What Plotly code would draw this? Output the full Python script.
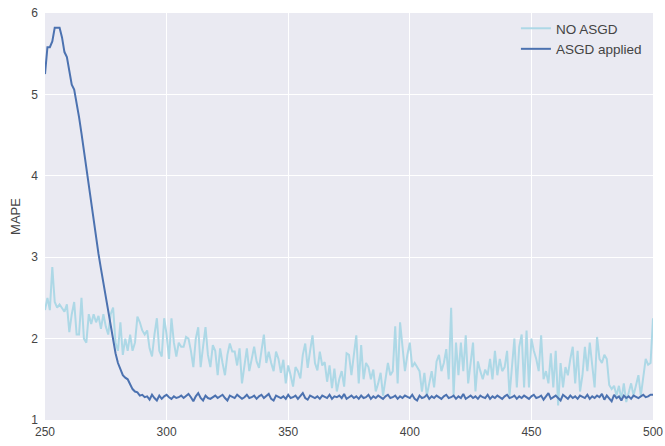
import plotly.graph_objects as go

epochs = list(range(250, 501))

no_asgd = [
    2.35, 2.50, 2.35, 2.88, 2.45, 2.38, 2.42, 2.38, 2.33, 2.42,  # 250
    2.08, 2.30, 2.45, 2.05, 2.05, 2.50, 2.00, 1.95, 2.30, 2.18,  # 260
    2.30, 2.20, 2.28, 2.12, 2.30, 2.15, 2.05, 2.30, 2.38, 1.95,  # 270
    1.85, 2.20, 1.80, 2.00, 1.85, 2.05, 1.85, 1.95, 2.27, 2.20,  # 280
    2.10, 2.05, 2.10, 1.88, 1.78, 2.05, 2.25, 1.85, 1.78, 2.25,  # 290
    2.05, 1.75, 2.25, 1.95, 1.78, 1.95, 1.90, 1.90, 2.02, 2.00,  # 300
    1.85, 1.65, 2.00, 2.14, 1.65, 1.90, 2.14, 1.80, 1.65, 1.92,  # 310
    1.85, 1.55, 1.88, 1.70, 1.55, 1.80, 1.94, 1.84, 1.84, 1.67,  # 320
    1.88, 1.45, 1.70, 1.88, 1.60, 1.75, 1.90, 1.72, 1.64, 1.85,  # 330
    2.05, 1.70, 1.84, 1.70, 1.60, 1.84, 1.75, 1.58, 1.74, 1.45,  # 340
    1.67, 1.55, 1.41, 1.65, 1.60, 1.51, 1.80, 1.94, 1.64, 1.85,  # 350
    2.04, 1.70, 1.61, 1.84, 1.67, 1.71, 1.47, 1.67, 1.39, 1.63,  # 360
    1.35, 1.50, 1.60, 1.41, 1.82, 1.80, 1.55, 1.80, 2.04, 1.45,  # 370
    1.92, 1.50, 1.70, 1.65, 1.50, 1.62, 1.35, 1.45, 1.58, 1.30,  # 380
    1.50, 1.70, 1.55, 1.60, 2.15, 1.45, 2.20, 1.85, 1.60, 1.80,  # 390
    1.95, 1.65, 1.70, 1.65, 1.60, 1.35, 1.58, 1.30, 1.45, 1.60,  # 400
    1.40, 1.72, 1.80, 1.60, 1.70, 1.87, 1.50, 2.38, 1.30, 1.95,  # 410
    1.55, 1.95, 1.60, 2.04, 1.45, 1.70, 1.95, 1.35, 1.72, 1.60,  # 420
    1.50, 1.62, 1.55, 1.75, 1.50, 1.85, 1.55, 1.75, 1.60, 1.65,  # 430
    1.85, 1.30, 1.65, 2.00, 1.40, 1.90, 2.05, 1.40, 2.10, 1.40,  # 440
    2.00, 1.85, 1.75, 1.60, 2.04, 1.50, 1.60, 1.45, 1.82, 1.40,  # 450
    1.85, 1.18, 1.70, 1.40, 1.65, 1.55, 1.75, 1.90, 1.45, 1.85,  # 460
    1.35, 1.55, 1.90, 1.60, 1.95, 1.70, 1.40, 2.02, 1.75, 1.70,  # 470
    1.80, 1.75, 1.43, 1.38, 1.42, 1.30, 1.42, 1.25, 1.45, 1.22,  # 480
    1.35, 1.45, 1.30, 1.42, 1.55, 1.30, 1.55, 1.75, 1.68, 1.70,  # 490
    2.25,                                                        # 500
]

asgd = [
    5.25, 5.58, 5.58, 5.65, 5.82, 5.82, 5.82, 5.70, 5.52, 5.46,  # 250
    5.30, 5.12, 5.06, 4.90, 4.72, 4.52, 4.30, 4.08, 3.86, 3.66,  # 260
    3.45, 3.24, 3.04, 2.86, 2.68, 2.50, 2.34, 2.18, 2.00, 1.82,  # 270
    1.70, 1.62, 1.55, 1.52, 1.50, 1.44, 1.38, 1.35, 1.34, 1.30,  # 280
    1.31, 1.28, 1.29, 1.25, 1.31, 1.27, 1.24, 1.30, 1.26, 1.29,  # 290
    1.31, 1.28, 1.26, 1.29, 1.27, 1.28, 1.30, 1.27, 1.29, 1.32,  # 300
    1.28, 1.23, 1.29, 1.33, 1.27, 1.24, 1.30, 1.27, 1.26, 1.28,  # 310
    1.30, 1.27, 1.29, 1.31, 1.27, 1.24, 1.30, 1.28, 1.27, 1.31,  # 320
    1.29, 1.26, 1.28, 1.31, 1.27, 1.28, 1.30, 1.26, 1.29, 1.31,  # 330
    1.27, 1.29, 1.32, 1.26, 1.24, 1.30, 1.28, 1.27, 1.29, 1.26,  # 340
    1.31, 1.27, 1.28, 1.30, 1.26, 1.29, 1.33, 1.27, 1.25, 1.30,  # 350
    1.28, 1.27, 1.29, 1.26, 1.30, 1.28, 1.27, 1.31, 1.26, 1.29,  # 360
    1.28, 1.30, 1.27, 1.32, 1.26, 1.28, 1.30, 1.27, 1.29, 1.26,  # 370
    1.30, 1.27, 1.28, 1.31, 1.26, 1.29, 1.27, 1.30, 1.28, 1.26,  # 380
    1.29, 1.31, 1.27, 1.28, 1.30, 1.26, 1.29, 1.27, 1.30, 1.28,  # 390
    1.27, 1.31, 1.26, 1.24, 1.30, 1.27, 1.28, 1.31, 1.26, 1.29,  # 400
    1.27, 1.30, 1.28, 1.26, 1.29, 1.31, 1.27, 1.28, 1.30, 1.26,  # 410
    1.29, 1.27, 1.32, 1.26, 1.28, 1.30, 1.27, 1.29, 1.26, 1.30,  # 420
    1.28, 1.27, 1.31, 1.26, 1.29, 1.27, 1.30, 1.28, 1.26, 1.29,  # 430
    1.31, 1.27, 1.28, 1.30, 1.26, 1.29, 1.27, 1.30, 1.28, 1.26,  # 440
    1.29, 1.31, 1.27, 1.28, 1.30, 1.25, 1.29, 1.33, 1.26, 1.28,  # 450
    1.30, 1.27, 1.24, 1.31, 1.28, 1.26, 1.30, 1.27, 1.29, 1.26,  # 460
    1.30, 1.28, 1.27, 1.31, 1.26, 1.29, 1.27, 1.30, 1.28, 1.32,  # 470
    1.25, 1.30, 1.27, 1.23, 1.31, 1.27, 1.29, 1.24, 1.30, 1.27,  # 480
    1.29, 1.26, 1.30, 1.28, 1.27, 1.29, 1.31, 1.28, 1.29, 1.31,  # 490
    1.31,                                                        # 500
]

fig = go.Figure()
fig.add_trace(go.Scatter(x=epochs, y=no_asgd, mode='lines', name='NO ASGD',
                         line=dict(color='#add8e6', width=2)))
fig.add_trace(go.Scatter(x=epochs, y=asgd, mode='lines', name='ASGD applied',
                         line=dict(color='#4c72b0', width=2)))

axis_style = dict(showgrid=True, gridcolor='white', gridwidth=1, zeroline=False,
                  showline=False, ticks='', automargin=False, ticklabeloverflow='allow',
                  tickfont=dict(size=12, color='#444444'))

fig.update_xaxes(range=[250, 500], tickvals=[250, 300, 350, 400, 450, 500],
                 ticklabelstandoff=3, **axis_style)
fig.update_yaxes(range=[1, 6], tickvals=[1, 2, 3, 4, 5, 6], ticklabelstandoff=6,
                 title=dict(text='MAPE', font=dict(size=13, color='#444444'), standoff=7),
                 **axis_style)

fig.update_layout(
    width=665, height=446,
    plot_bgcolor='#eaeaf2', paper_bgcolor='white',
    font=dict(family='Liberation Sans, Arial, sans-serif', color='#444444'),
    margin=dict(l=45, r=12, t=13, b=26),
    showlegend=True,
    legend=dict(x=0.99, y=1.0, xanchor='right', yanchor='top',
                bgcolor='rgba(0,0,0,0)', font=dict(size=13.5, color='#444444'),
                itemwidth=30, tracegroupgap=0),
)

# drop the default page margin so the figure sits at the window's corner
fig.write_html("out.html", config={'displayModeBar': False},
               post_script="document.body.style.margin='0';document.body.style.overflow='hidden';")
